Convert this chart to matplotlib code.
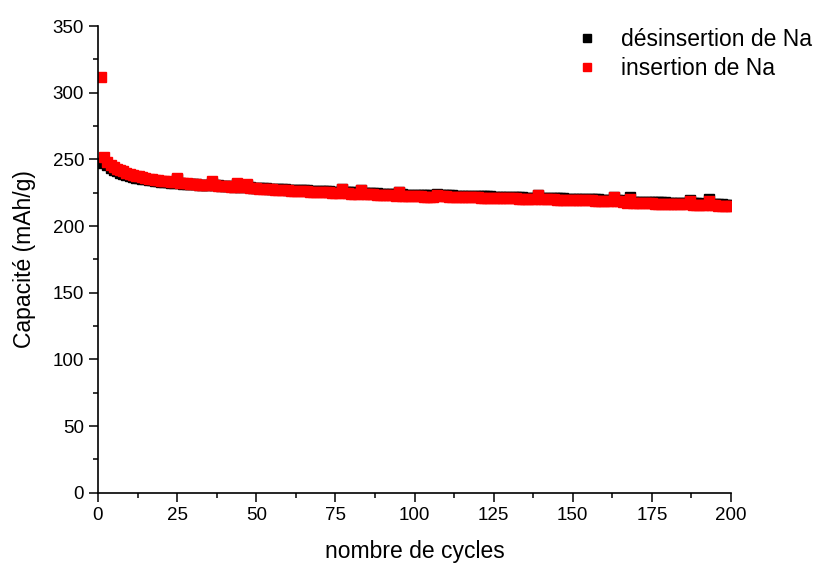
import matplotlib
matplotlib.use("Agg")
import matplotlib.pyplot as plt
from matplotlib.ticker import MultipleLocator

plt.rcParams['font.family'] = ['Liberation Sans', 'DejaVu Sans']

cycles = list(range(1, 201))

insertion = [
    312, 252, 248, 246, 244.5, 243, 242, 241, 240, 239.2,
    238.5, 237.8, 237.2, 236.6, 236.1, 235.6, 235.2, 234.8, 234.4, 234.1,
    233.8, 233.5, 233.2, 232.9, 236, 232.5, 232.2, 232, 231.8, 231.5,
    231.3, 231.1, 230.9, 230.7, 230.5, 233.5, 231, 230.4, 230.2, 230,
    229.8, 229.6, 229.4, 232, 229.2, 229, 231.5, 228.7, 228.5, 228.3,
    228.1, 227.9, 227.8, 227.6, 227.5, 227.3, 227.2, 227, 226.9, 226.8,
    226.6, 226.5, 226.4, 226.2, 226.1, 226, 225.9, 225.7, 225.6, 225.5,
    225.4, 225.3, 225.2, 225, 224.9, 224.8, 227.5, 224.6, 224.5, 224.4,
    224.3, 224.2, 227, 224, 223.9, 223.8, 223.7, 223.5, 223.4, 223.3,
    223.2, 223.1, 223, 222.9, 225.5, 222.7, 222.6, 222.5, 222.4, 222.3,
    222.2, 222.2, 222.1, 222, 222, 221.9, 223.5, 222.5, 222.3, 222.2,
    222.1, 222, 222, 221.9, 221.8, 221.8, 221.7, 221.6, 221.6, 221.5,
    221.4, 221.4, 221.3, 221.2, 221.2, 221.1, 221, 221, 220.9, 220.8,
    220.8, 220.7, 220.6, 220.6, 220.5, 220.4, 220.4, 220.3, 223, 220.5,
    220.2, 220.1, 220, 220, 219.9, 219.8, 219.8, 219.7, 219.6, 219.6,
    219.5, 219.4, 219.4, 219.3, 219.2, 219.2, 219.1, 219, 219, 218.9,
    218.8, 218.8, 222, 218.6, 218.5, 217.8, 217.5, 220.5, 217.4, 217.3,
    217.2, 217.2, 217.1, 217, 217, 216.9, 216.8, 216.8, 216.7, 216.6,
    216.6, 216.5, 216.4, 216.4, 216.3, 216.2, 219, 216.1, 216, 216,
    215.9, 215.8, 218.5, 215.7, 215.6, 215.4, 215.2, 215.1, 215.0, 214.8,
]

desinsertion = [
    247, 248, 245.5, 243.8, 242.3, 241.0, 240.0, 239.1, 238.3, 237.6,
    237.0, 236.4, 235.9, 235.4, 235.0, 234.6, 234.2, 233.9, 233.6, 233.3,
    233.1, 232.9, 232.6, 232.4, 235, 232.1, 231.9, 231.7, 231.6, 231.4,
    231.2, 231.1, 230.9, 230.8, 230.6, 232.5, 230.8, 230.5, 230.3, 230.2,
    230, 229.8, 229.6, 231.5, 229.4, 229.3, 231, 229, 228.8, 228.7,
    228.5, 228.4, 228.3, 228.1, 228, 227.9, 227.8, 227.6, 227.5, 227.4,
    227.3, 227.2, 227.1, 226.9, 226.8, 226.7, 226.6, 226.5, 226.4, 226.3,
    226.2, 226.1, 226, 225.9, 225.8, 225.7, 227.5, 225.5, 225.4, 225.3,
    225.2, 225.1, 227, 224.9, 224.8, 224.7, 224.6, 224.5, 224.4, 224.3,
    224.2, 224.1, 224, 223.9, 225.5, 223.7, 223.6, 223.5, 223.4, 223.3,
    223.3, 223.2, 223.1, 223.1, 223, 222.9, 223.8, 223.3, 223.2, 223.1,
    223, 223, 222.9, 222.8, 222.8, 222.7, 222.6, 222.6, 222.5, 222.4,
    222.4, 222.3, 222.2, 222.2, 222.1, 222, 222, 221.9, 221.8, 221.8,
    221.7, 221.6, 221.6, 221.5, 221.4, 221.4, 221.3, 221.2, 223.5, 221.3,
    221.1, 221, 221, 220.9, 220.8, 220.8, 220.7, 220.6, 220.6, 220.5,
    220.4, 220.4, 220.3, 220.2, 220.2, 220.1, 220, 220, 219.9, 219.8,
    219.8, 219.7, 222, 219.5, 219.4, 218.9, 218.6, 221.5, 218.4, 218.3,
    218.2, 218.2, 218.1, 218, 218, 217.9, 217.8, 217.8, 217.7, 217.6,
    217.6, 217.5, 217.4, 217.4, 217.3, 217.2, 219.2, 217.1, 217, 217,
    216.9, 216.8, 220.5, 216.7, 216.6, 216.4, 216.2, 216.1, 216.0, 215.9,
]

label_des = "désinsertion de Na"
label_ins = "insertion de Na"

fig = plt.figure(figsize=(8.33, 5.67), dpi=100)
ax = fig.add_axes([0.1176, 0.131, 0.76, 0.823])

ax.plot(cycles, desinsertion, linestyle='none', marker='s', markersize=6.8,
        color='black', label=label_des)
ax.plot(cycles, insertion, linestyle='none', marker='s', markersize=6.8,
        color='#ff0000', label=label_ins)

ax.set_xlim(0, 200)
ax.set_ylim(0, 350)
ax.xaxis.set_major_locator(MultipleLocator(25))
ax.xaxis.set_minor_locator(MultipleLocator(12.5))
ax.yaxis.set_major_locator(MultipleLocator(50))
ax.yaxis.set_minor_locator(MultipleLocator(25))

for s in ['top', 'right']:
    ax.spines[s].set_visible(False)
for s in ['left', 'bottom']:
    ax.spines[s].set_linewidth(1.2)

ax.tick_params(which='major', direction='out', length=6.5, width=1.1, labelsize=13.5)
ax.tick_params(which='minor', direction='out', length=3.5, width=1.1)

ax.set_xlabel("nombre de cycles", fontsize=16.5, labelpad=12)
ax.set_ylabel("Capacité (mAh/g)", fontsize=16.5, labelpad=12)

leg = ax.legend(loc='upper left', bbox_to_anchor=(0.718, 1.041), frameon=False,
                fontsize=16.5, markerscale=0.75, handletextpad=0.9, labelspacing=0.3,
                handlelength=1.2)

fig.savefig("out.png", dpi=100)
